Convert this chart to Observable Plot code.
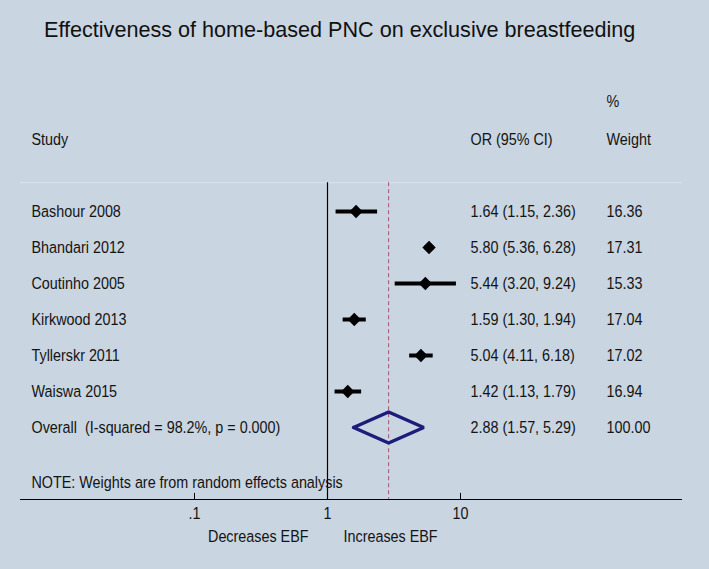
<!DOCTYPE html>
<html>
<head>
<meta charset="utf-8">
<script src="https://cdn.jsdelivr.net/npm/d3@7"></script>
<script src="https://cdn.jsdelivr.net/npm/@observablehq/plot@0.6"></script>
<style>
  html, body { margin: 0; padding: 0; background: #c9d5e1; }
  body { width: 709px; height: 569px; overflow: hidden; font-family: "Liberation Sans", Arial, sans-serif; }
  #title { height: 60px; box-sizing: border-box; padding-top: 19px; padding-left: 44px; font-size: 21.6px; line-height: 22px; color: #111; white-space: nowrap; }
  #chart svg { display: block; }
</style>
</head>
<body>
<div id="title">Effectiveness of home-based PNC on exclusive breastfeeding</div>
<div id="chart"></div>
<script>
// ---- data ----
const studies = ["Bashour 2008", "Bhandari 2012", "Coutinho 2005", "Kirkwood 2013", "Tyllerskr 2011", "Waiswa 2015"];
const oddsRatios = [1.64, 5.80, 5.44, 1.59, 5.04, 1.42];
const ciLow = [1.15, 5.36, 3.20, 1.30, 4.11, 1.13];
const ciHigh = [2.36, 6.28, 9.24, 1.94, 6.18, 1.79];
const weights = [16.36, 17.31, 15.33, 17.04, 17.02, 16.94];

const overallLabel = "Overall  (I-squared = 98.2%, p = 0.000)";
const overallOR = 2.88;
const overallLow = 1.57;
const overallHigh = 5.29;
const overallWeight = 100.00;

const tickValues = [0.1, 1, 10];
const tickLabels = [".1", "1", "10"];
const headers = ["Study", "OR (95% CI)", "Weight"];
const note = "NOTE: Weights are from random effects analysis";
const directionLabels = ["Decreases EBF", "Increases EBF"];

// ---- build tables ----
const f2 = d3.format(".2f");
const rows = studies.map((s, i) => ({
  study: s, or: oddsRatios[i], lo: ciLow[i], hi: ciHigh[i], w: weights[i], row: i,
  ci: `${f2(oddsRatios[i])} (${f2(ciLow[i])}, ${f2(ciHigh[i])})`
}));
const overallRow = studies.length;
const overallCI = `${f2(overallOR)} (${f2(overallLow)}, ${f2(overallHigh)})`;
const halfH = 0.43;
const diamondPts = [
  {x: overallLow, y: overallRow},
  {x: overallOR, y: overallRow - halfH},
  {x: overallHigh, y: overallRow},
  {x: overallOR, y: overallRow + halfH},
  {x: overallLow, y: overallRow}
];
const ticks = tickValues.map((v, i) => ({v, label: tickLabels[i]}));

const sepRow = -0.8, axisRow = 8;
const fs = 17;          // font size (height); glyphs are condensed horizontally below
const squeeze = 0.845;
const ink = "#141414";

const chart = Plot.plot({
  width: 709, height: 509,
  marginLeft: 20, marginRight: 27, marginTop: 0, marginBottom: 0,
  style: {background: "transparent", fontFamily: "'Liberation Sans', Arial, sans-serif", fontSize: fs + "px", color: ink},
  x: {type: "log", domain: [0.1, 10], range: [194, 460], axis: null},
  y: {domain: [-4, 9.5], range: [7, 493], axis: null},
  marks: [
    // separator and axis
    Plot.ruleY([sepRow], {stroke: "#dde3ea", strokeWidth: 1}),
    Plot.ruleY([axisRow], {stroke: "#000", strokeWidth: 1.2}),
    Plot.ruleX(ticks, {x: "v", y1: axisRow - 0.17, y2: axisRow, stroke: "#000", strokeWidth: 1}),
    Plot.text(ticks, {x: "v", y: axisRow + 0.38, text: "label", fontSize: fs, fill: ink}),
    // null line and overall line
    Plot.ruleX([1], {y1: sepRow, y2: axisRow, stroke: "#000", strokeWidth: 1.2}),
    Plot.ruleX([overallOR], {y1: sepRow, y2: axisRow, stroke: "#a5566e", strokeWidth: 1, strokeDasharray: "4,3"}),
    // CIs and points
    Plot.link(rows, {x1: "lo", x2: "hi", y1: "row", y2: "row", stroke: "#000", strokeWidth: 4}),
    Plot.dot(rows, {x: "or", y: "row", symbol: "diamond2", r: 6, fill: "#000", stroke: "none"}),
    // overall diamond
    Plot.line(diamondPts, {x: "x", y: "y", stroke: "#1c1c7a", strokeWidth: 3.5, strokeLinejoin: "miter"}),
    // text columns
    Plot.text(rows, {y: "row", text: "study", frameAnchor: "left", dx: 11, textAnchor: "start", fontSize: fs, fill: ink}),
    Plot.text(rows, {y: "row", text: "ci", frameAnchor: "left", dx: 450, textAnchor: "start", fontSize: fs, fill: ink}),
    Plot.text(rows, {y: "row", text: d => f2(d.w), frameAnchor: "left", dx: 586, textAnchor: "start", fontSize: fs, fill: ink}),
    Plot.text([overallLabel], {y: overallRow, text: d => d, frameAnchor: "left", dx: 11, textAnchor: "start", fontSize: fs, fill: ink}),
    Plot.text([overallCI], {y: overallRow, text: d => d, frameAnchor: "left", dx: 450, textAnchor: "start", fontSize: fs, fill: ink}),
    Plot.text([f2(overallWeight)], {y: overallRow, text: d => d, frameAnchor: "left", dx: 586, textAnchor: "start", fontSize: fs, fill: ink}),
    // headers
    Plot.text([headers[0]], {y: -2, text: d => d, frameAnchor: "left", dx: 11, textAnchor: "start", fontSize: fs, fill: ink}),
    Plot.text([headers[1]], {y: -2, text: d => d, frameAnchor: "left", dx: 450, textAnchor: "start", fontSize: fs, fill: ink}),
    Plot.text([headers[2]], {y: -2, text: d => d, frameAnchor: "left", dx: 586, textAnchor: "start", fontSize: fs, fill: ink}),
    Plot.text(["%"], {y: -3.05, text: d => d, frameAnchor: "left", dx: 586, textAnchor: "start", fontSize: fs, fill: ink}),
    // note and direction labels
    Plot.text([note], {y: 7.53, text: d => d, frameAnchor: "left", dx: 11, textAnchor: "start", fontSize: fs, fill: ink}),
    Plot.text([directionLabels[0]], {x: 1, y: 9.03, text: d => d, dx: -19, textAnchor: "end", fontSize: fs, fill: ink}),
    Plot.text([directionLabels[1]], {x: 1, y: 9.03, text: d => d, dx: 16, textAnchor: "start", fontSize: fs, fill: ink})
  ]
});

// condense glyphs horizontally around each text's anchor point (style only; y untouched)
chart.querySelectorAll("text").forEach(t => {
  const tr = t.getAttribute("transform") || "";
  const xAttr = t.getAttribute("x");
  const dxAttr = t.getAttribute("dx");
  let shift = 0;
  if (xAttr && !/em$/.test(xAttr)) { shift += parseFloat(xAttr) || 0; t.removeAttribute("x"); }
  if (dxAttr && !/em$/.test(dxAttr)) { shift += parseFloat(dxAttr) || 0; t.removeAttribute("dx"); }
  t.setAttribute("transform", `${tr} translate(${shift},0) scale(${squeeze},1)`);
});

document.getElementById("chart").appendChild(chart);
</script>
</body>
</html>
